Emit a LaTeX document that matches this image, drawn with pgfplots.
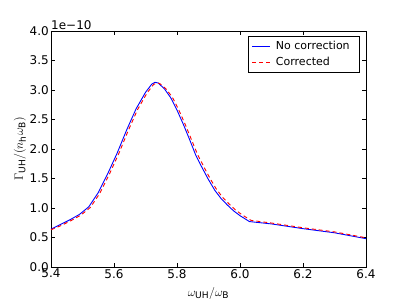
\documentclass[border=0pt]{standalone}
\usepackage{fontspec}
\setmainfont{DejaVu Sans}
\usepackage{pgfplots}
\pgfplotsset{compat=1.18}
\usepackage{pgfplotstable}

\pgfplotstableread{
x y
5.40 0.64
5.43 0.72
5.46 0.80
5.49 0.89
5.52 1.02
5.55 1.26
5.58 1.58
5.61 1.93
5.64 2.32
5.67 2.68
5.70 2.96
5.72 3.10
5.73 3.13
5.74 3.12
5.76 3.02
5.78 2.87
5.80 2.66
5.82 2.42
5.84 2.16
5.86 1.89
5.88 1.68
5.90 1.48
5.92 1.30
5.94 1.16
5.96 1.05
5.98 0.95
6.00 0.87
6.03 0.77
6.10 0.73
6.20 0.65
6.30 0.58
6.40 0.48
}\nocorr

\pgfplotstableread{
x y
5.40 0.63
5.435 0.71
5.465 0.79
5.495 0.88
5.525 1.01
5.555 1.25
5.585 1.57
5.615 1.92
5.645 2.31
5.675 2.67
5.705 2.95
5.725 3.09
5.735 3.12
5.745 3.11
5.765 3.02
5.785 2.88
5.805 2.67
5.825 2.43
5.845 2.17
5.865 1.91
5.885 1.70
5.905 1.50
5.925 1.32
5.945 1.18
5.965 1.07
5.985 0.97
6.005 0.89
6.035 0.79
6.10 0.745
6.20 0.665
6.30 0.595
6.40 0.495
}\corr

\begin{document}
\fontsize{12}{14}\selectfont
\begin{tikzpicture}
\begin{axis}[
  scale only axis,
  width=315pt, height=236pt,
  xmin=5.4, xmax=6.4, ymin=0, ymax=4.0,
  xtick={5.4,5.6,5.8,6.0,6.2,6.4},
  ytick={0,0.5,1.0,1.5,2.0,2.5,3.0,3.5,4.0},
  xticklabels={5.4,5.6,5.8,6.0,6.2,6.4},
  yticklabels={0.0,0.5,1.0,1.5,2.0,2.5,3.0,3.5,4.0},
  tick align=inside,
  major tick length=4pt,
  tick style={black, line width=0.6pt},
  axis line style={black, line width=0.8pt},
  xticklabel style={font=\fontsize{12}{14}\selectfont, inner sep=1pt, yshift=-1pt},
  yticklabel style={font=\fontsize{12}{14}\selectfont, inner sep=1pt, xshift=-1pt},
  every axis x label/.style={at={(rel axis cs:0.5,0)}, anchor=center, yshift=-26pt, font=\fontsize{13}{15}\selectfont},
  every axis y label/.style={at={(rel axis cs:0,0.5)}, xshift=-31pt, rotate=90, anchor=center, font=\fontsize{13}{15}\selectfont},
  xlabel={$\omega_{\mathrm{UH}}/\omega_{\mathrm{B}}$},
  ylabel={$\Gamma_{\mathrm{UH}}/(n_{\mathrm{h}}\omega_{\mathrm{B}})$},
  legend style={at={(rel axis cs:1,1)}, anchor=north east, xshift=-6pt, yshift=-5pt,
    draw=black, line width=0.6pt, font=\fontsize{11}{13}\selectfont,
    row sep=1.5pt, inner xsep=4pt, inner ysep=3pt,
    nodes={inner xsep=6pt}},
  legend cell align=left,
  clip=true,
]
\addplot[color=blue, line width=0.9pt] table[x=x,y=y] {\nocorr};
\addlegendentry{No correction}
\addplot[color=red, line width=0.9pt, dash pattern=on 4pt off 3pt] table[x=x,y=y] {\corr};
\addlegendentry{Corrected}
\coordinate (ll) at (rel axis cs:0,0);
\coordinate (ur) at (rel axis cs:1,1);
\end{axis}
\node[anchor=south west, inner sep=0pt, yshift=1pt, font=\fontsize{12}{14}\selectfont] at (ll |- ur) {1e\char"2212 10};
\pgfresetboundingbox
\useasboundingbox ([xshift=-51pt,yshift=-38pt]ll) rectangle ([xshift=41pt,yshift=31pt]ur);
\end{tikzpicture}
\end{document}
